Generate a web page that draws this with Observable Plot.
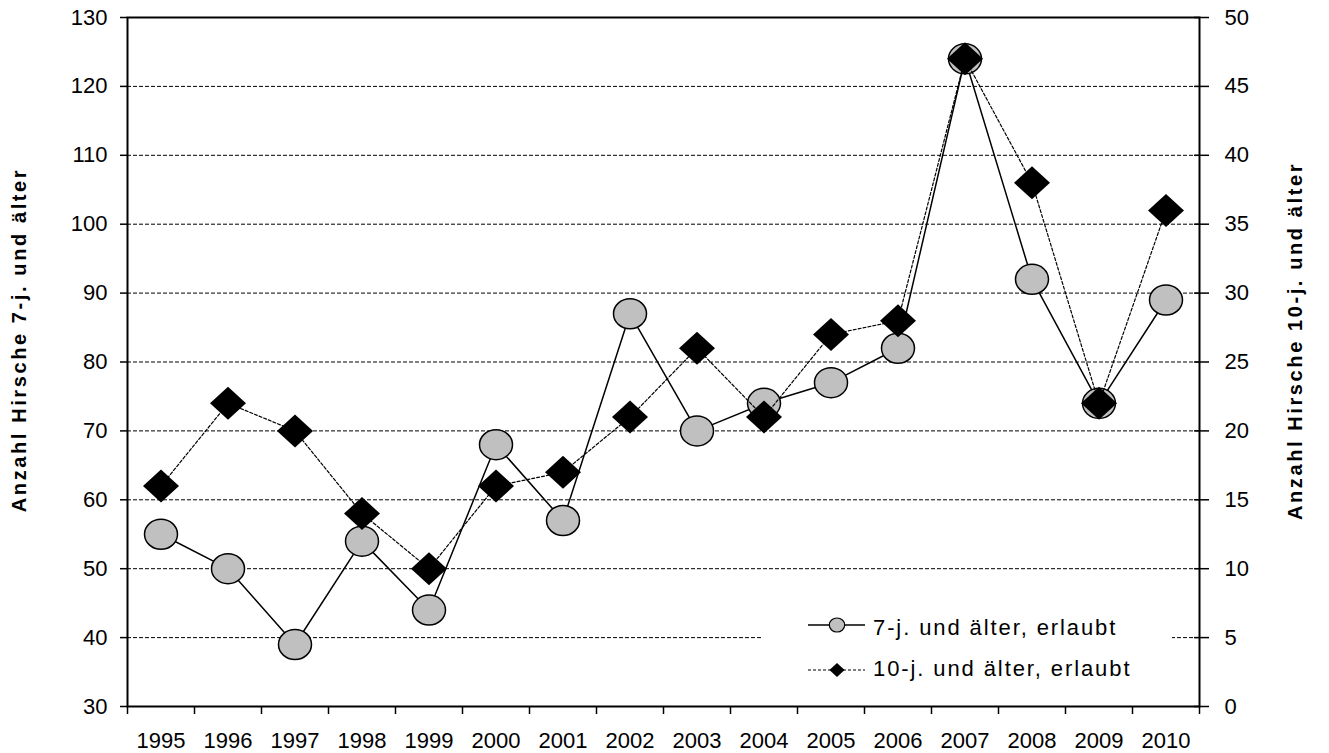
<!DOCTYPE html>
<html><head><meta charset="utf-8">
<script src="https://cdn.jsdelivr.net/npm/d3@7"></script>
<script src="https://cdn.jsdelivr.net/npm/@observablehq/plot@0.6"></script>
<style>
body{margin:0;background:#fff;}
#wrap{position:relative;width:1329px;height:753px;background:#fff;}
#legend{position:absolute;left:763px;top:597px;}
</style></head><body><div id="wrap"></div>
<script>
const years = [1995,1996,1997,1998,1999,2000,2001,2002,2003,2004,2005,2006,2007,2008,2009,2010];
const adult7 = [55,50,39,54,44,68,57,87,70,74,77,82,124,92,74,89];
const adult10 = [16,22,20,14,10,16,17,21,26,21,27,28,47,38,22,36];
const leftTicks = [30,40,50,60,70,80,90,100,110,120,130];
const rightTicks = [0,5,10,15,20,25,30,35,40,45,50];
const gridValues = [40,50,60,70,80,90,100,110,120];
const seriesNames = ["7-j. und älter, erlaubt","10-j. und älter, erlaubt"];
const leftTitle = "Anzahl Hirsche 7-j. und älter";
const rightTitle = "Anzahl Hirsche 10-j. und älter";

// right axis (0–50) shares the plot height with the left axis (30–130)
const toLeft = v => 30 + v * 2;
const fromLeft = v => (v - 30) / 2;

const d7 = years.map((year, i) => ({year, value: adult7[i]}));
const d10 = years.map((year, i) => ({year, value: adult10[i]}));
const boundaries = years.map(y => y - 0.5).concat([years[years.length - 1] + 0.5]);

const ellipse = {draw(ctx, size) {
  const r = Math.sqrt(size / Math.PI), rx = r * 1.1, ry = r, k = 0.5523;
  ctx.moveTo(rx, 0);
  ctx.bezierCurveTo(rx, ry * k, rx * k, ry, 0, ry);
  ctx.bezierCurveTo(-rx * k, ry, -rx, ry * k, -rx, 0);
  ctx.bezierCurveTo(-rx, -ry * k, -rx * k, -ry, 0, -ry);
  ctx.bezierCurveTo(rx * k, -ry, rx, -ry * k, rx, 0);
  ctx.closePath();
}};
const rhombus = {draw(ctx, size) {
  const r = Math.sqrt(size / Math.PI), rx = r * 1.2, ry = r * 1.1;
  ctx.moveTo(0, -ry); ctx.lineTo(rx, 0); ctx.lineTo(0, ry); ctx.lineTo(-rx, 0); ctx.closePath();
}};

const plot = Plot.plot({
  width: 1329, height: 753,
  marginLeft: 127, marginRight: 130, marginTop: 17, marginBottom: 47,
  style: {fontFamily: "'Liberation Sans', Arial, sans-serif", fontSize: "22px", color: "black", background: "white", overflow: "visible"},
  x: {domain: [1994.5, 2010.5]},
  y: {domain: [30, 130]},
  marks: [
    Plot.ruleY(gridValues, {stroke: "black", strokeWidth: 1, strokeDasharray: "4,2"}),
    Plot.frame({stroke: "black", strokeWidth: 2}),
    Plot.axisY({anchor: "left", ticks: leftTicks, tickSize: 7, tickPadding: 13, label: null, tickFormat: d => String(d), strokeWidth: 1.5, letterSpacing: "3px"}),
    Plot.axisY({anchor: "right", ticks: rightTicks.map(toLeft), tickFormat: d => String(fromLeft(d)), tickSize: 15, dx: -6, tickPadding: 16, label: null, strokeWidth: 1.5, letterSpacing: "3px"}),
    Plot.axisX({ticks: years, tickSize: 0, tickPadding: 26, label: null, tickFormat: d => String(d)}),
    Plot.axisX({ticks: boundaries, tickSize: 8, label: null, tickFormat: () => "", strokeWidth: 1.5}),
    Plot.line(d7, {x: "year", y: "value", stroke: "black", strokeWidth: 1.5}),
    Plot.dot(d7, {x: "year", y: "value", r: 15, symbol: ellipse, fill: "#c0c0c0", stroke: "black", strokeWidth: 1.5}),
    Plot.line(d10, {x: "year", y: d => toLeft(d.value), stroke: "black", strokeWidth: 1.2, strokeDasharray: "3,2"}),
    Plot.dot(d10, {x: "year", y: d => toLeft(d.value), r: 15, symbol: rhombus, fill: "black", stroke: "none"})
  ]
});

const svg = d3.select(plot);
svg.append("text").attr("transform", "translate(26,340) rotate(-90)")
  .attr("text-anchor", "middle").attr("font-weight", "bold").attr("font-size", 20)
  .attr("letter-spacing", "2.6px").attr("fill", "black").text(leftTitle);
svg.append("text").attr("transform", "translate(1302,341) rotate(-90)")
  .attr("text-anchor", "middle").attr("font-weight", "bold").attr("font-size", 20)
  .attr("letter-spacing", "2.6px").attr("fill", "black").text(rightTitle);

const wrap = document.getElementById("wrap");
wrap.appendChild(plot);

// legend
const lg = d3.select(wrap).append("svg").attr("id", "legend").attr("width", 409).attr("height", 92)
  .style("font-family", "'Liberation Sans', Arial, sans-serif");
lg.append("rect").attr("width", 409).attr("height", 92).attr("fill", "white");
const e1 = lg.append("g").attr("transform", "translate(0,28)");
e1.append("line").attr("x1", 45).attr("x2", 102).attr("stroke", "black").attr("stroke-width", 1.5);
e1.append("path").attr("d", d3.symbol(ellipse, Math.PI * 49)()).attr("transform", "translate(74,0)")
  .attr("fill", "#c0c0c0").attr("stroke", "black").attr("stroke-width", 1.2);
e1.append("text").attr("x", 110).attr("y", 10).attr("font-size", 22).attr("letter-spacing", "1.9px").text(seriesNames[0]);
const e2 = lg.append("g").attr("transform", "translate(0,73)");
e2.append("line").attr("x1", 45).attr("x2", 102).attr("stroke", "black").attr("stroke-width", 1.2).attr("stroke-dasharray", "3,2");
e2.append("path").attr("d", d3.symbol(rhombus, Math.PI * 40)()).attr("transform", "translate(74,0)").attr("fill", "black");
e2.append("text").attr("x", 110).attr("y", 6).attr("font-size", 22).attr("letter-spacing", "1.9px").text(seriesNames[1]);
</script></body></html>
